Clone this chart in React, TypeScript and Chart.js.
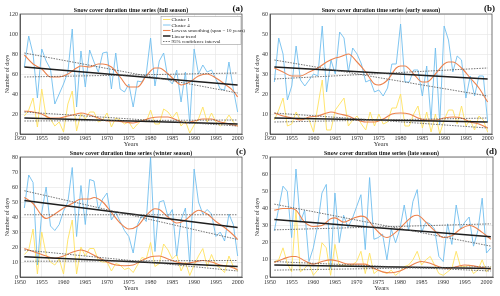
import React, { useEffect, useRef } from "react";
import { Chart, registerables } from "chart.js";
Chart.register(...registerables);

const FIRST_YEAR = 1951;

// ---------- (a) full season ----------
const A_C1 = [18, 24, 36, 7, 45, 17, 15, 8, 12, 2, 30, 43, 3, 21, 15, 22, 22, 12, 14, 21, 7, 16, 14, 10, 12, 5, 10, 14, 12, 24, 10, 10, 25, 22, 16, 22, 8, 13, 1, 9, 15, 27, 12, 21, 12, 8, 12, 19, 12, 8];
const A_C4 = [67, 98, 80, 36, 85, 73, 65, 30, 40, 50, 62, 105, 27, 83, 47, 84, 72, 62, 81, 82, 45, 81, 45, 42, 50, 27, 53, 52, 60, 96, 48, 73, 81, 55, 50, 64, 32, 62, 10, 85, 60, 69, 62, 64, 55, 45, 44, 72, 45, 22];
const A_LOW_C4: [number, number][] = [[1951, 79], [1953, 70], [1955, 65], [1957, 57], [1959, 57], [1961, 60], [1963, 66], [1964, 68], [1966, 67], [1968, 70], [1969, 70], [1971, 67], [1973, 57], [1975, 47], [1977, 47], [1979, 58], [1981, 66], [1982, 66], [1984, 60], [1986, 52], [1987, 49], [1989, 52], [1991, 58], [1993, 60], [1995, 56], [1997, 50], [1999, 43], [2000, 37]];
const A_LOW_C1: [number, number][] = [[1951, 23], [1953, 22], [1955, 20], [1957, 16], [1959, 16], [1961, 18], [1963, 20], [1964, 21], [1966, 19], [1968, 16], [1970, 13], [1972, 13], [1974, 12], [1976, 11], [1978, 13], [1980, 16], [1982, 17], [1984, 17], [1986, 14], [1988, 11], [1990, 13], [1992, 15], [1994, 15], [1996, 12], [1998, 10], [2000, 8]];
const A_TREND_C4 = [67, 49];
const A_TREND_C1 = [16, 10];
const A_CI_C4 = [[81, 41], [57, 61]];
const A_CI_C1 = [[22, 8], [13, 14]];

// ---------- (b) early season ----------
const B_C1 = [7, 12, 18, 4, 5, 11, 7, 8, 7, 1, 14, 27, 2, 2, 12, 15, 18, 4, 7, 9, 5, 2, 11, 4, 10, 5, 6, 13, 13, 20, 4, 4, 10, 14, 3, 11, 1, 10, 0, 7, 12, 12, 5, 14, 4, 7, 2, 9, 7, 1];
const B_C4 = [26, 48, 40, 17, 24, 44, 27, 24, 27, 30, 29, 54, 21, 37, 30, 51, 48, 31, 43, 40, 35, 26, 27, 21, 22, 19, 23, 35, 35, 55, 26, 26, 32, 32, 19, 34, 7, 43, 5, 54, 47, 31, 39, 37, 18, 29, 19, 29, 29, 6];
const B_LOW_C4: [number, number][] = [[1951, 33], [1953, 31], [1955, 29], [1957, 29], [1959, 31], [1961, 33], [1963, 36], [1965, 38], [1966, 38.5], [1968, 40], [1970, 36], [1972, 31], [1974, 25], [1975, 24.5], [1977, 27], [1979, 33], [1980, 34], [1981, 34], [1983, 30], [1985, 26], [1986, 26], [1988, 30], [1990, 35], [1991, 36], [1992, 36], [1994, 33], [1996, 28], [1998, 23], [2000, 16]];
const B_LOW_C1: [number, number][] = [[1951, 10.5], [1953, 9], [1955, 8], [1957, 7], [1959, 8.5], [1961, 9], [1963, 10.5], [1964, 11], [1966, 10], [1968, 9], [1970, 7], [1972, 6], [1974, 6], [1976, 7.5], [1978, 10], [1980, 10.5], [1982, 10], [1984, 8], [1986, 7], [1988, 7], [1990, 8], [1992, 8.5], [1994, 8], [1996, 6], [1998, 5], [2000, 3]];
const B_TREND_C4 = [33.5, 27.5];
const B_TREND_C1 = [8, 6];
const B_CI_C4 = [[37, 19], [27.5, 33]];
const B_CI_C1 = [[10.5, 3], [6, 8]];

// ---------- (c) winter season ----------
const C_C1 = [15, 18, 32, 2, 30, 15, 10, 8, 12, 2, 25, 38, 2, 20, 14, 19, 19, 11, 10, 10, 4, 9, 8, 5, 6, 3, 8, 13, 12, 23, 7, 9, 22, 18, 12, 15, 4, 10, 1, 8, 14, 19, 7, 15, 8, 6, 3, 14, 7, 4];
const C_C4 = [46, 68, 63, 8, 43, 60, 34, 31, 35, 44, 50, 73, 27, 61, 35, 65, 64, 45, 52, 56, 38, 43, 37, 31, 27, 16, 35, 41, 37, 80, 17, 50, 51, 40, 45, 14, 38, 46, 8, 72, 50, 42, 45, 42, 27, 30, 24, 42, 35, 14];
const C_LOW_C4: [number, number][] = [[1951, 53], [1953, 49], [1955, 41], [1956, 39], [1958, 42], [1960, 46], [1962, 49], [1964, 52], [1966, 52], [1967, 53], [1969, 50], [1971, 43], [1973, 36], [1975, 32], [1977, 34], [1979, 41], [1981, 45.5], [1982, 45], [1984, 40], [1986, 36], [1988, 38], [1990, 43], [1991, 44.5], [1993, 42], [1995, 37], [1997, 33], [1999, 28], [2000, 25]];
const C_LOW_C1: [number, number][] = [[1951, 19], [1953, 17], [1955, 15], [1957, 13], [1958, 12.5], [1960, 14], [1962, 16.5], [1964, 18], [1966, 16], [1968, 13], [1970, 10], [1972, 8], [1974, 7.5], [1976, 8], [1978, 11], [1980, 13.5], [1982, 14], [1984, 12], [1986, 10], [1988, 9], [1990, 10], [1992, 11], [1994, 10], [1996, 8], [1998, 7], [2000, 5]];
const C_TREND_C4 = [51, 33];
const C_TREND_C1 = [13.5, 7];
const C_CI_C4 = [[57.5, 25], [41.5, 41.5]];
const C_CI_C1 = [[18, 4], [10.5, 11]];

// ---------- (d) late season ----------
const D_C1 = [9, 10, 17, 8, 3, 39, 3, 5, 8, 1, 4, 20, 17, 1, 19, 6, 7, 6, 7, 9, 15, 2, 14, 2, 4, 3, 2, 4, 1, 3, 6, 7, 10, 15, 7, 10, 12, 7, 2, 1, 3, 5, 15, 6, 6, 7, 2, 4, 10, 3, 6];
const D_C4 = [27, 40, 53, 50, 23, 63, 32, 39, 9, 17, 30, 49, 54, 5, 49, 20, 36, 29, 34, 41, 48, 16, 58, 22, 23, 25, 10, 28, 20, 28, 42, 27, 44, 51, 26, 32, 31, 28, 12, 9, 31, 19, 42, 28, 32, 35, 18, 27, 46, 14, 17];
const D_LOW_C4: [number, number][] = [[1951, 39], [1953, 40], [1955, 40], [1956, 39], [1958, 32], [1960, 29.5], [1962, 30], [1964, 34], [1965, 34.5], [1967, 32], [1969, 34], [1971, 35.5], [1972, 35], [1974, 29], [1976, 24], [1977, 23], [1979, 26], [1981, 31], [1983, 35.5], [1984, 36], [1986, 32], [1988, 27], [1990, 23], [1992, 24], [1994, 28], [1996, 30], [1997, 29.5], [1999, 26], [2001, 22]];
const D_LOW_C1: [number, number][] = [[1951, 8.5], [1953, 10.5], [1955, 12], [1956, 12], [1958, 9.5], [1960, 7.5], [1962, 9], [1964, 10], [1966, 9], [1968, 7.5], [1970, 7.5], [1972, 7.5], [1974, 5], [1976, 3], [1978, 2.5], [1980, 3.5], [1982, 6], [1984, 8.5], [1985, 9], [1987, 8], [1989, 6], [1991, 5], [1993, 6], [1995, 7], [1997, 6.5], [1999, 5.5], [2001, 4.5]];
const D_TREND_C4 = [33.5, 23.5];
const D_TREND_C1 = [7, 5];
const D_CI_C4 = [[42.5, 18], [27.5, 31]];
const D_CI_C1 = [[9, 3.5], [4, 6]];

const X_TICK_STEP = 5;
const LEGEND_LABELS = ["Cluster 1", "Cluster 4", "Lowess smoothing (span = 10 years)", "Linear trend", "95% confidence interval"];

const C1_COLOR = "rgb(255,226,95)";
const C4_COLOR = "rgb(112,190,238)";
const LOW_COLOR = "rgb(236,130,78)";
const TREND_COLOR = "#1e1e1e";
const CI_COLOR = "#505050";
const FONT = '"Liberation Serif", "Times New Roman", serif';

type PanelCfg = {
  left: number; top: number; title: string; letter: string;
  yMax: number; yStep: number; xMax: number;
  c1: number[]; c4: number[]; low1: [number, number][]; low4: [number, number][];
  tr1: number[]; tr4: number[]; ci1: number[][]; ci4: number[][];
  legend: boolean; padTop: number; padRight: number; xH: number; xTitlePad: number; tickPad: number;
  titleY: number; letterX: number; letterY: number;
};

const PANELS: PanelCfg[] = [
  { left: 0, top: 0, title: "Snow cover duration time series (full season)", letter: "(a)", yMax: 120, yStep: 20, xMax: 2001,
    c1: A_C1, c4: A_C4, low1: A_LOW_C1, low4: A_LOW_C4, tr1: A_TREND_C1, tr4: A_TREND_C4, ci1: A_CI_C1, ci4: A_CI_C4,
    legend: true, padTop: 14, padRight: 8, xH: 14, xTitlePad: 0, tickPad: 1, titleY: 10, letterX: 243, letterY: 8.5 },
  { left: 250, top: 0, title: "Snow cover duration time series (early season)", letter: "(b)", yMax: 60, yStep: 10, xMax: 2001,
    c1: B_C1, c4: B_C4, low1: B_LOW_C1, low4: B_LOW_C4, tr1: B_TREND_C1, tr4: B_TREND_C4, ci1: B_CI_C1, ci4: B_CI_C4,
    legend: false, padTop: 14, padRight: 8, xH: 14, xTitlePad: 0, tickPad: 1, titleY: 10, letterX: 245, letterY: 8.5 },
  { left: 0, top: 148, title: "Snow cover duration time series (winter season)", letter: "(c)", yMax: 80, yStep: 10, xMax: 2001,
    c1: C_C1, c4: C_C4, low1: C_LOW_C1, low4: C_LOW_C4, tr1: C_TREND_C1, tr4: C_TREND_C4, ci1: C_CI_C1, ci4: C_CI_C4,
    legend: false, padTop: 9, padRight: 8, xH: 19, xTitlePad: 4, tickPad: 2, titleY: 5, letterX: 246, letterY: 3.5 },
  { left: 250, top: 148, title: "Snow cover duration time series (late season)", letter: "(d)", yMax: 70, yStep: 10, xMax: 2001.5,
    c1: D_C1, c4: D_C4, low1: D_LOW_C1, low4: D_LOW_C4, tr1: D_TREND_C1, tr4: D_TREND_C4, ci1: D_CI_C1, ci4: D_CI_C4,
    legend: false, padTop: 9, padRight: 7, xH: 19, xTitlePad: 4, tickPad: 2, titleY: 5, letterX: 247, letterY: 3.5 },
];

const series = (vals: number[]) => vals.map((v, i) => ({ x: FIRST_YEAR + i, y: v }));
const pairs = (p: [number, number][]) => p.map(([x, y]) => ({ x, y }));
const seg = (v: number[], x1: number) => [{ x: FIRST_YEAR, y: v[0] }, { x: x1, y: v[1] }];

function makeDecor(p: PanelCfg) {
  return {
    id: "decor",
    afterDraw(chart: any) {
      const { ctx, chartArea: ca } = chart;
      ctx.save();
      ctx.strokeStyle = "#3a3a3a";
      ctx.lineWidth = 0.7;
      ctx.strokeRect(ca.left, ca.top, ca.right - ca.left, ca.bottom - ca.top);
      ctx.fillStyle = "#111";
      ctx.textAlign = "center";
      ctx.textBaseline = "middle";
      ctx.font = `bold 6px ${FONT}`;
      ctx.fillText(p.title, (ca.left + ca.right) / 2, p.titleY);
      ctx.font = `bold 9px ${FONT}`;
      ctx.textAlign = "right";
      ctx.fillText(p.letter, p.letterX, p.letterY);
      if (p.legend) {
        const bx = 161, by = 16.5, bw = 80, bh = 28;
        ctx.fillStyle = "#fff";
        ctx.fillRect(bx, by, bw, bh);
        ctx.strokeStyle = "#888";
        ctx.lineWidth = 0.5;
        ctx.strokeRect(bx, by, bw, bh);
        const styles = [
          { c: C1_COLOR, w: 0.9, d: [] as number[] },
          { c: C4_COLOR, w: 0.9, d: [] as number[] },
          { c: LOW_COLOR, w: 1.1, d: [] as number[] },
          { c: TREND_COLOR, w: 1.5, d: [] as number[] },
          { c: CI_COLOR, w: 0.8, d: [1.5, 1.2] },
        ];
        ctx.font = `5px ${FONT}`;
        ctx.textAlign = "left";
        LEGEND_LABELS.forEach((lab, i) => {
          const y = by + 3 + i * 5.5;
          const s = styles[i];
          ctx.beginPath();
          ctx.strokeStyle = s.c;
          ctx.lineWidth = s.w;
          ctx.setLineDash(s.d);
          ctx.moveTo(bx + 2, y);
          ctx.lineTo(bx + 9.5, y);
          ctx.stroke();
          ctx.setLineDash([]);
          ctx.fillStyle = "#222";
          ctx.fillText(lab, bx + 10.5, y + 0.3);
        });
      }
      ctx.restore();
    },
  };
}

function Panel({ p }: { p: PanelCfg }) {
  const ref = useRef<HTMLCanvasElement>(null);
  useEffect(() => {
    if (!ref.current) return;
    const lastYear = FIRST_YEAR + p.c1.length - 1;
    const base = { pointRadius: 0, pointHoverRadius: 0, fill: false };
    const chart = new Chart(ref.current, {
      type: "line",
      data: {
        datasets: [
          { ...base, label: "Cluster 1", data: series(p.c1), borderColor: C1_COLOR, borderWidth: 0.9, order: 6 },
          { ...base, label: "Cluster 4", data: series(p.c4), borderColor: C4_COLOR, borderWidth: 0.9, order: 5 },
          { ...base, label: "Lowess C1", data: pairs(p.low1), borderColor: LOW_COLOR, borderWidth: 1.1, cubicInterpolationMode: "monotone", order: 4 },
          { ...base, label: "Lowess C4", data: pairs(p.low4), borderColor: LOW_COLOR, borderWidth: 1.1, cubicInterpolationMode: "monotone", order: 3 },
          { ...base, label: "Trend C1", data: seg(p.tr1, lastYear), borderColor: TREND_COLOR, borderWidth: 1.5, order: 2 },
          { ...base, label: "Trend C4", data: seg(p.tr4, lastYear), borderColor: TREND_COLOR, borderWidth: 1.5, order: 2 },
          ...[...p.ci1, ...p.ci4].map((v, i) => ({
            ...base, label: "CI " + i, data: seg(v, lastYear), borderColor: CI_COLOR, borderWidth: 0.8, borderDash: [1.5, 1.2], order: 1,
          })),
        ] as any,
      },
      options: {
        animation: false,
        responsive: false,
        events: [],
        layout: { padding: { top: p.padTop, right: p.padRight, left: 0, bottom: 0 } },
        plugins: { legend: { display: false }, tooltip: { enabled: false }, title: { display: false } },
        scales: {
          x: {
            type: "linear",
            min: 1950,
            max: p.xMax,
            afterFit: (s: any) => { s.height = p.xH; },
            ticks: {
              stepSize: X_TICK_STEP, includeBounds: false, padding: p.tickPad, color: "#333",
              font: { family: FONT, size: 6 }, maxRotation: 0, autoSkip: false,
              callback: (v: any) => String(v),
            },
            grid: { color: "#e4e4e4", lineWidth: 0.6, drawTicks: false },
            border: { color: "#3a3a3a", width: 0.7 },
            title: { display: true, text: "Years", color: "#333", font: { family: FONT, size: 6.5 }, padding: { top: 0, bottom: p.xTitlePad } },
          },
          y: {
            min: 0,
            max: p.yMax,
            afterFit: (s: any) => { s.width = 20; },
            ticks: { stepSize: p.yStep, padding: 2, color: "#333", font: { family: FONT, size: 6 } },
            grid: { color: "#e4e4e4", lineWidth: 0.6, drawTicks: false },
            border: { color: "#3a3a3a", width: 0.7 },
            title: { display: true, text: "Number of days", color: "#333", font: { family: FONT, size: 6 }, padding: { top: 3.5, bottom: 0 } },
          },
        },
      } as any,
      plugins: [makeDecor(p)],
    });
    return () => chart.destroy();
  }, [p]);
  return (
    <canvas
      ref={ref}
      width={250}
      height={148}
      style={{ position: "absolute", left: p.left, top: p.top, width: 250, height: 148 }}
    />
  );
}

export default function App() {
  return (
    <div style={{ position: "fixed", left: 0, top: 0, width: 500, height: 296, background: "#fff", overflow: "hidden" }}>
      {PANELS.map((p) => (
        <Panel key={p.letter} p={p} />
      ))}
    </div>
  );
}
